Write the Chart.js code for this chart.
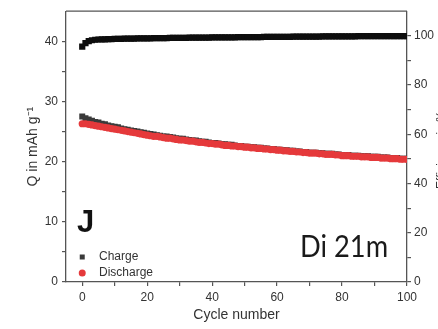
<!DOCTYPE html>
<html>
<head>
<meta charset="utf-8">
<script src="https://cdn.jsdelivr.net/npm/chart.js@4.4.1/dist/chart.umd.min.js"></script>
<style>
  html, body { margin: 0; padding: 0; background: #fff; }
  #wrap { width: 438px; height: 329px; }
</style>
</head>
<body>
<div id="wrap"><canvas id="cyc" width="438" height="329"></canvas></div>
<script>
// cycle index 0..100
const cycles = Array.from({ length: 101 }, (_, i) => i);

// specific capacity in mAh/g
const charge = [
  27.5, 27.2, 27.0, 26.8, 26.6, 26.5, 26.3, 26.2, 26.0, 25.9,
  25.8, 25.7, 25.5, 25.4, 25.3, 25.2, 25.1, 25.0, 24.9, 24.8,
  24.7, 24.6, 24.5, 24.4, 24.3, 24.2, 24.2, 24.1, 24.0, 23.9,
  23.8, 23.8, 23.7, 23.6, 23.5, 23.5, 23.4, 23.3, 23.3, 23.2,
  23.1, 23.1, 23.0, 22.9, 22.9, 22.8, 22.8, 22.7, 22.6, 22.6,
  22.5, 22.5, 22.4, 22.4, 22.3, 22.3, 22.2, 22.2, 22.1, 22.1,
  22.0, 22.0, 21.9, 21.9, 21.8, 21.8, 21.7, 21.7, 21.6, 21.6,
  21.5, 21.5, 21.5, 21.4, 21.4, 21.3, 21.3, 21.3, 21.2, 21.2,
  21.1, 21.1, 21.1, 21.0, 21.0, 21.0, 20.9, 20.9, 20.9, 20.8,
  20.8, 20.8, 20.7, 20.7, 20.7, 20.6, 20.6, 20.6, 20.5, 20.5, 20.5
];
const discharge = [
  26.3, 26.3, 26.2, 26.1, 26.0, 25.9, 25.8, 25.7, 25.6, 25.5,
  25.4, 25.3, 25.2, 25.1, 25.0, 24.9, 24.8, 24.7, 24.6, 24.5,
  24.4, 24.3, 24.2, 24.2, 24.1, 24.0, 23.9, 23.9, 23.8, 23.7,
  23.6, 23.6, 23.5, 23.4, 23.4, 23.3, 23.2, 23.2, 23.1, 23.0,
  23.0, 22.9, 22.9, 22.8, 22.7, 22.7, 22.6, 22.6, 22.5, 22.5,
  22.4, 22.4, 22.3, 22.3, 22.2, 22.2, 22.1, 22.1, 22.0, 22.0,
  21.9, 21.9, 21.8, 21.8, 21.7, 21.7, 21.6, 21.6, 21.5, 21.5,
  21.4, 21.4, 21.4, 21.3, 21.3, 21.2, 21.2, 21.2, 21.1, 21.1,
  21.0, 21.0, 21.0, 20.9, 20.9, 20.9, 20.8, 20.8, 20.8, 20.7,
  20.7, 20.7, 20.6, 20.6, 20.6, 20.5, 20.5, 20.5, 20.4, 20.4, 20.4
];
// coulombic efficiency in %
const efficiency = [
  95.6, 97.0, 97.8, 98.2, 98.4, 98.5, 98.6, 98.6, 98.7, 98.7,
  98.8, 98.8, 98.8, 98.9, 98.9, 98.9, 98.9, 99.0, 99.0, 99.0,
  99.0, 99.0, 99.1, 99.1, 99.1, 99.1, 99.1, 99.2, 99.2, 99.2,
  99.2, 99.2, 99.2, 99.3, 99.3, 99.3, 99.3, 99.3, 99.3, 99.3,
  99.4, 99.4, 99.4, 99.4, 99.4, 99.4, 99.4, 99.4, 99.5, 99.5,
  99.5, 99.5, 99.5, 99.5, 99.5, 99.5, 99.6, 99.6, 99.6, 99.6,
  99.6, 99.6, 99.6, 99.6, 99.6, 99.7, 99.7, 99.7, 99.7, 99.7,
  99.7, 99.7, 99.7, 99.7, 99.8, 99.8, 99.8, 99.8, 99.8, 99.8,
  99.8, 99.8, 99.8, 99.8, 99.8, 99.9, 99.9, 99.9, 99.9, 99.9,
  99.9, 99.9, 99.9, 99.9, 99.9, 99.9, 99.9, 99.9, 99.9, 99.9, 99.9
];

// tick positions (labels only on every second one)
const xTicks = [0, 10, 20, 30, 40, 50, 60, 70, 80, 90, 100];
const qTicks = [0, 5, 10, 15, 20, 25, 30, 35, 40];
const effTicks = [0, 10, 20, 30, 40, 50, 60, 70, 80, 90, 100];

const pts = arr => arr.map((v, i) => ({ x: cycles[i], y: v }));

const axisColor = '#555';
const textColor = '#333';

// frame top edge, panel letter, sample tag, legend and the clipped right title
const extras = {
  id: 'extras',
  afterDraw(chart) {
    const { ctx, chartArea: a } = chart;
    ctx.save();
    ctx.strokeStyle = axisColor;
    ctx.lineWidth = 1.3;
    ctx.beginPath();
    ctx.moveTo(a.left, a.top);
    ctx.lineTo(a.right, a.top);
    ctx.stroke();

    ctx.fillStyle = '#111';
    ctx.font = 'bold 31px "Liberation Sans", Arial, sans-serif';
    ctx.textBaseline = 'alphabetic';
    ctx.fillText('J', 77, 232);

    // sample tag, squeezed a little horizontally
    ctx.save();
    ctx.translate(300, 257);
    ctx.scale(0.88, 1);
    ctx.font = '31px Lato, "Open Sans", sans-serif';
    ctx.fillStyle = '#1a1a1a';
    ctx.fillText('Di 21m', 0, 0);
    ctx.restore();

    // legend for the two capacity series
    const xs = chart.scales.x.getPixelForValue(0);
    const entries = chart.data.datasets.filter(d => d.inLegend);
    ctx.font = '12px "Liberation Sans", Arial, sans-serif';
    ctx.textBaseline = 'middle';
    entries.forEach((d, i) => {
      const y = 257 + i * 16;
      ctx.fillStyle = d.backgroundColor;
      if (d.pointStyle === 'circle') {
        ctx.beginPath();
        ctx.arc(xs, y, 3.5, 0, Math.PI * 2);
        ctx.fill();
      } else {
        ctx.fillRect(xs - 2.5, y - 2.5, 5, 5);
      }
      ctx.fillStyle = textColor;
      ctx.fillText(d.label, 99, y);
    });

    // right axis title, mostly off the canvas edge
    ctx.translate(445, 150);
    ctx.rotate(-Math.PI / 2);
    ctx.textAlign = 'center';
    ctx.textBaseline = 'alphabetic';
    ctx.font = '12px "Liberation Sans", Arial, sans-serif';
    ctx.fillStyle = textColor;
    ctx.fillText('Efficiency in %', 0, 0);
    ctx.restore();
  }
};

const tickFont = { family: '"Liberation Sans", Arial, sans-serif', size: 12 };

new Chart(document.getElementById('cyc'), {
  type: 'scatter',
  data: {
    datasets: [
      {
        label: 'Charge', inLegend: true, data: pts(charge), yAxisID: 'y', order: 2,
        pointStyle: 'rect', pointRadius: 4.2, borderWidth: 0,
        backgroundColor: '#3a3a3a', borderColor: '#3a3a3a'
      },
      {
        label: 'Discharge', inLegend: true, data: pts(discharge), yAxisID: 'y', order: 1,
        pointStyle: 'circle', pointRadius: 3.6, borderWidth: 0,
        backgroundColor: '#e5393b', borderColor: '#e5393b'
      },
      {
        label: 'Efficiency', data: pts(efficiency), yAxisID: 'y1', order: 3,
        pointStyle: 'rect', pointRadius: 4.4, borderWidth: 0,
        backgroundColor: '#0d0d0d', borderColor: '#0d0d0d'
      }
    ]
  },
  options: {
    responsive: false,
    animation: false,
    layout: { padding: { top: 11, left: 0, right: 0, bottom: 0 } },
    plugins: { legend: { display: false }, tooltip: { enabled: false } },
    scales: {
      x: {
        type: 'linear', min: -5, max: 100,
        afterBuildTicks: s => { s.ticks = xTicks.map(v => ({ value: v })); },
        afterFit: s => { s.height = 47; },
        grid: { drawOnChartArea: false, drawTicks: true, tickLength: 4, color: axisColor, lineWidth: 1.2 },
        border: { color: axisColor, width: 1.3 },
        ticks: { padding: 4, color: textColor, font: tickFont, callback: v => (v % 20 === 0 ? v : '') },
        title: { display: true, text: 'Cycle number', color: textColor, padding: { top: 0, bottom: 5 },
                 font: { family: '"Liberation Sans", Arial, sans-serif', size: 14 } }
      },
      y: {
        position: 'left', min: 0, max: 45,
        afterBuildTicks: s => { s.ticks = qTicks.map(v => ({ value: v })); },
        afterFit: s => { s.width = 66; },
        grid: { drawOnChartArea: false, drawTicks: true, tickLength: 4, color: axisColor, lineWidth: 1.2 },
        border: { color: axisColor, width: 1.3 },
        ticks: { padding: 4, color: textColor, font: tickFont, callback: v => (v % 10 === 0 ? v : '') },
        title: { display: true, text: 'Q in mAh g\u207B\u00B9', color: textColor, padding: { top: 25, bottom: 0 },
                 font: { family: '"Liberation Sans", Arial, sans-serif', size: 14 } }
      },
      y1: {
        position: 'right', min: 0, max: 110,
        afterBuildTicks: s => { s.ticks = effTicks.map(v => ({ value: v })); },
        afterFit: s => { s.width = 31; },
        grid: { drawOnChartArea: false, drawTicks: true, tickLength: 4, color: axisColor, lineWidth: 1.2 },
        border: { color: axisColor, width: 1.3 },
        ticks: { padding: 3, color: textColor, font: tickFont, callback: v => (v % 20 === 0 ? v : '') }
      }
    }
  },
  plugins: [extras]
});
</script>
</body>
</html>
